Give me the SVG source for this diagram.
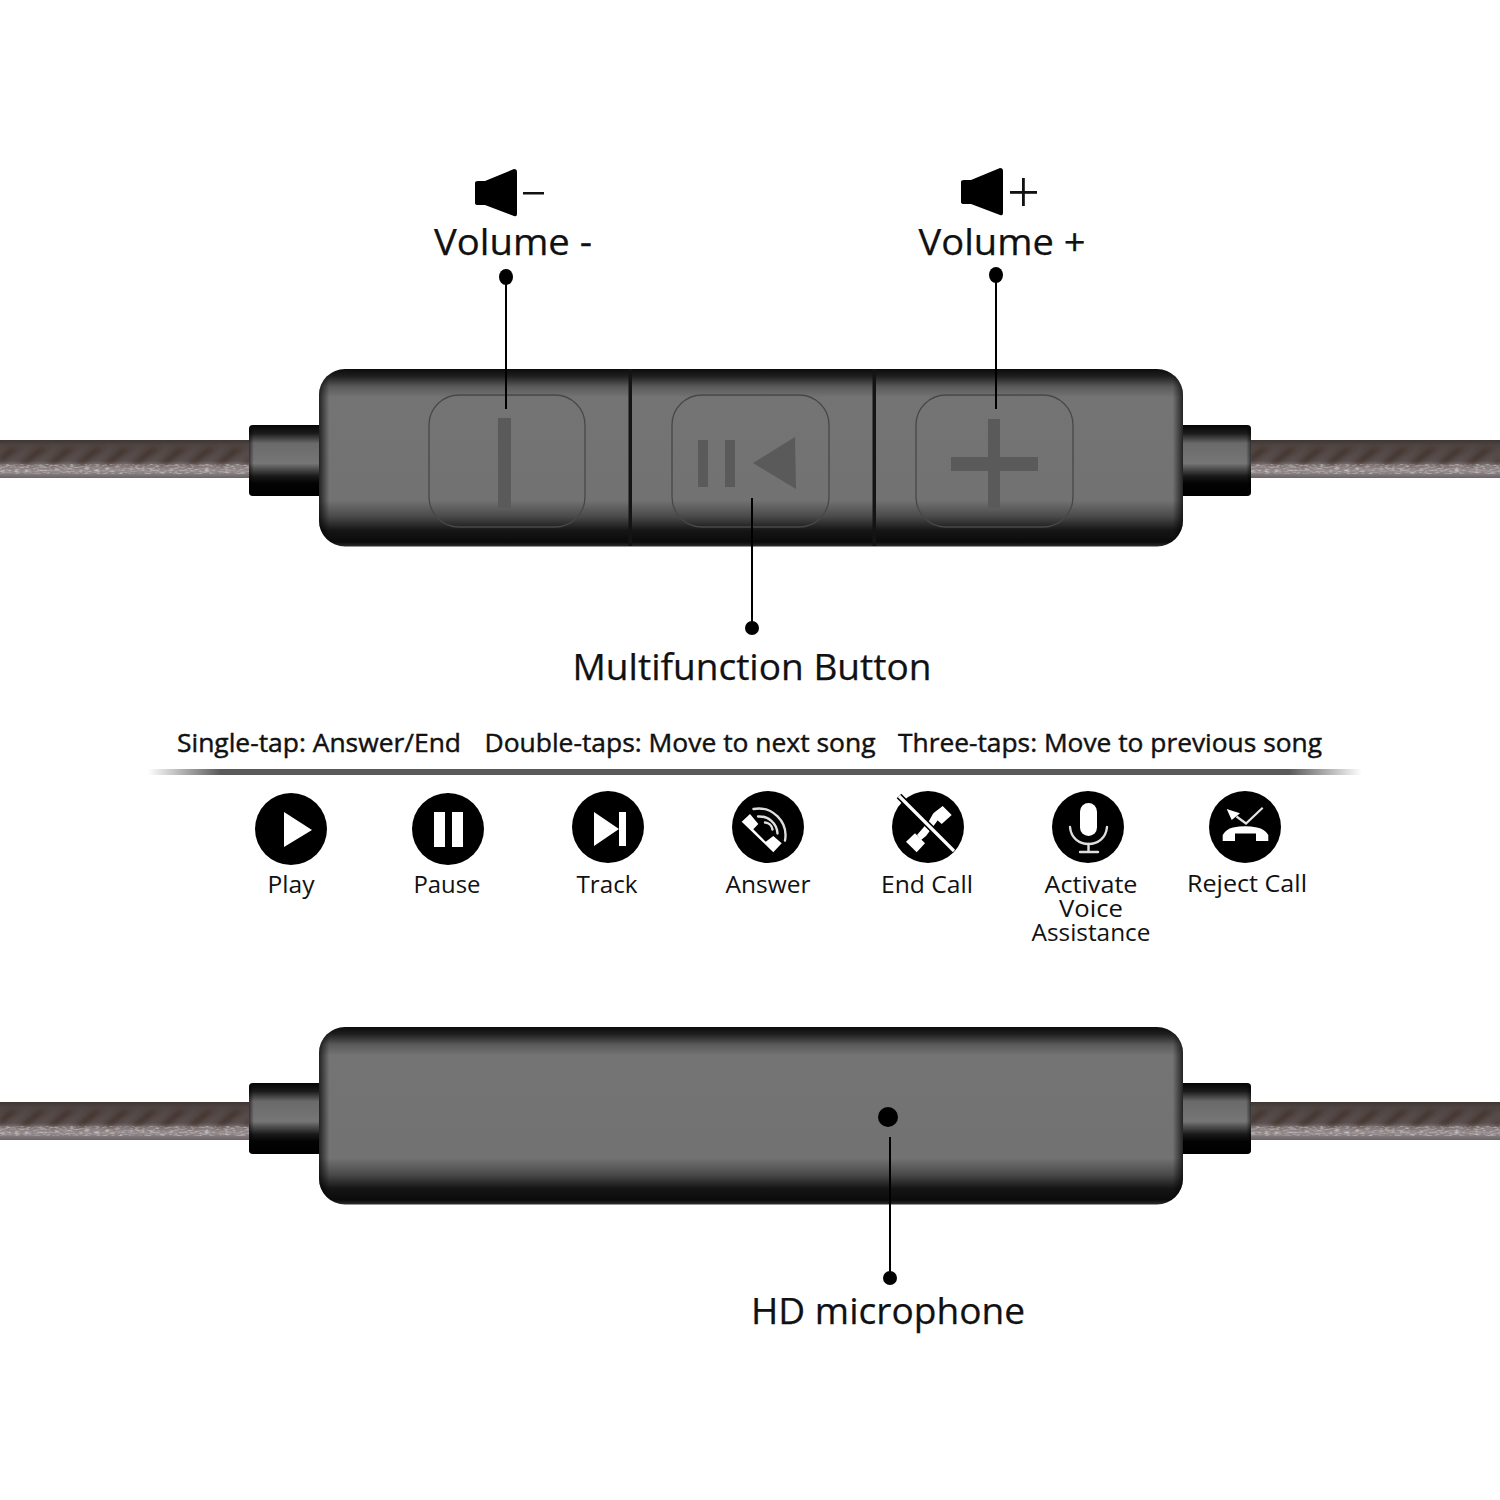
<svg xmlns="http://www.w3.org/2000/svg" width="1500" height="1500" viewBox="0 0 1500 1500">
<style>
  text { font-family: "Open Sans", "Noto Sans", "Liberation Sans", sans-serif; fill: #111; text-anchor: middle; }
  .big { font-size: 36px; stroke: #111; stroke-width: 0.25; }
  .tap { font-size: 26px; stroke: #111; stroke-width: 0.45; }
  .cap { font-size: 24px; }
  .lead { stroke: #000; stroke-width: 2; fill: none; }
  .dot { fill: #000; }
  .key { fill: none; stroke: #484848; stroke-width: 1.3; }
  .glyph { fill: #5a5a5a; }
  .disc { fill: #000; }
  .wht { fill: #fff; }
  .arc { fill: none; stroke: #dedede; stroke-width: 2.4; stroke-linecap: round; }
</style>
<defs>
  <linearGradient id="bodyV" x1="0" y1="0" x2="0" y2="1">
    <stop offset="0" stop-color="#0c0c0c"/>
    <stop offset="0.04" stop-color="#1e1e1e"/>
    <stop offset="0.1" stop-color="#5a5a5a"/>
    <stop offset="0.16" stop-color="#747474"/>
    <stop offset="0.74" stop-color="#727272"/>
    <stop offset="0.83" stop-color="#4a4a4a"/>
    <stop offset="0.91" stop-color="#151515"/>
    <stop offset="0.975" stop-color="#0b0b0b"/>
    <stop offset="1" stop-color="#2e2e2e"/>
  </linearGradient>
  <linearGradient id="bodyH" x1="0" y1="0" x2="1" y2="0">
    <stop offset="0" stop-color="#000" stop-opacity="0.7"/>
    <stop offset="0.012" stop-color="#000" stop-opacity="0"/>
    <stop offset="0.988" stop-color="#000" stop-opacity="0"/>
    <stop offset="1" stop-color="#000" stop-opacity="0.7"/>
  </linearGradient>
  <linearGradient id="ferrule" x1="0" y1="0" x2="0" y2="1">
    <stop offset="0" stop-color="#050505"/>
    <stop offset="0.12" stop-color="#1c1c1c"/>
    <stop offset="0.26" stop-color="#6a6a6a"/>
    <stop offset="0.54" stop-color="#767676"/>
    <stop offset="0.72" stop-color="#1a1a1a"/>
    <stop offset="0.82" stop-color="#030303"/>
    <stop offset="1" stop-color="#000"/>
  </linearGradient>
  <linearGradient id="ferruleEdge" x1="0" y1="0" x2="1" y2="0">
    <stop offset="0" stop-color="#000" stop-opacity="0.55"/>
    <stop offset="0.06" stop-color="#000" stop-opacity="0"/>
    <stop offset="0.94" stop-color="#000" stop-opacity="0"/>
    <stop offset="1" stop-color="#000" stop-opacity="0.55"/>
  </linearGradient>
  <linearGradient id="cord" x1="0" y1="0" x2="0" y2="1">
    <stop offset="0" stop-color="#3f3634"/>
    <stop offset="0.14" stop-color="#4f4543"/>
    <stop offset="0.55" stop-color="#5b5150"/>
    <stop offset="0.68" stop-color="#84797b"/>
    <stop offset="0.82" stop-color="#938a8c"/>
    <stop offset="1" stop-color="#6b6266"/>
  </linearGradient>
  <pattern id="twist" x="0" y="0" width="28" height="38" patternUnits="userSpaceOnUse">
    <polygon points="-10,24 0,24 20,8 10,8" fill="#3a2a22" opacity="0.7"/>
    <polygon points="18,24 28,24 48,8 38,8" fill="#3a2a22" opacity="0.7"/>
  </pattern>
  <filter id="soft" x="0" y="0" width="1" height="1">
    <feGaussianBlur stdDeviation="2.4"/>
  </filter>
  <filter id="grain" x="0" y="0" width="1" height="1">
    <feTurbulence type="fractalNoise" baseFrequency="0.2 0.6" numOctaves="2" seed="4"/>
    <feColorMatrix type="matrix" values="0 0 0 0 0.82  0 0 0 0 0.78  0 0 0 0 0.79  1.4 0 0 0 -0.6"/>
  </filter>
  <linearGradient id="rule" x1="0" y1="0" x2="1" y2="0">
    <stop offset="0" stop-color="#5a5a5a" stop-opacity="0"/>
    <stop offset="0.06" stop-color="#5a5a5a"/>
    <stop offset="0.94" stop-color="#5a5a5a"/>
    <stop offset="1" stop-color="#5a5a5a" stop-opacity="0"/>
  </linearGradient>
  <path id="speaker" d="M0,-10 Q0,-12 3,-12 L10,-12 L39,-24 Q42,-24 42,-21 L42,21 Q42,24 39,23 L10,12 L3,12 Q0,12 0,10 Z" fill="#000"/>
  <g id="strand">
    <rect x="0" y="0" width="250" height="38" fill="url(#cord)"/>
    <rect x="0" y="0" width="250" height="38" fill="url(#twist)" filter="url(#soft)"/>
    <rect x="0" y="24" width="250" height="10" filter="url(#grain)"/>
  </g>
  <g id="cap">
    <rect x="0" y="0" width="80" height="71" rx="4" fill="url(#ferrule)"/>
    <rect x="0" y="0" width="80" height="71" rx="4" fill="url(#ferruleEdge)"/>
  </g>
  <g id="housing">
    <rect x="319" y="0" width="864" height="177.500" rx="26" fill="url(#bodyV)"/>
    <rect x="319" y="0" width="864" height="177.500" rx="26" fill="url(#bodyH)"/>
  </g>
</defs>

<rect width="1500" height="1500" fill="#fff"/>

<g id="remote-top">
  <use href="#strand" x="0" y="440"/>
  <use href="#strand" x="1250" y="440"/>
  <use href="#cap" x="249" y="425"/>
  <use href="#cap" x="1171" y="425"/>
  <use href="#housing" y="369"/>
  <rect x="628.500" y="369" width="3.500" height="177" fill="#141414"/>
  <rect x="872.500" y="369" width="3.500" height="177" fill="#141414"/>
</g>

<g id="button-minus">
  <rect class="key" x="429" y="395" width="156" height="132" rx="30"/>
  <rect class="glyph" x="498" y="418" width="13" height="90"/>
</g>
<g id="button-multi">
  <rect class="key" x="672" y="395" width="157" height="132" rx="30"/>
  <rect class="glyph" x="698" y="440" width="10" height="47"/>
  <rect class="glyph" x="725" y="440" width="10" height="47"/>
  <polygon class="glyph" points="753,463 795,437 796,489"/>
</g>
<g id="button-plus">
  <rect class="key" x="916" y="395" width="157" height="132" rx="30"/>
  <rect class="glyph" x="988" y="419" width="12" height="89"/>
  <rect class="glyph" x="951" y="457" width="87" height="14"/>
</g>

<g id="remote-bottom">
  <use href="#strand" x="0" y="1102"/>
  <use href="#strand" x="1250" y="1102"/>
  <use href="#cap" x="249" y="1083"/>
  <use href="#cap" x="1171" y="1083"/>
  <use href="#housing" y="1027"/>
  <circle cx="888" cy="1117" r="10" fill="#000"/>
</g>

<g id="connectors">
  <line class="lead" x1="506" y1="277" x2="506" y2="409"/>
  <ellipse class="dot" cx="506" cy="277" rx="7" ry="8"/>
  <line class="lead" x1="996" y1="275" x2="996" y2="409"/>
  <ellipse class="dot" cx="996" cy="275" rx="7" ry="8"/>
  <line class="lead" x1="752" y1="498" x2="752" y2="628"/>
  <circle class="dot" cx="752" cy="628" r="7"/>
  <line class="lead" x1="890" y1="1137" x2="890" y2="1278"/>
  <circle class="dot" cx="890" cy="1278" r="7"/>
</g>

<g id="label-volume-down">
  <use href="#speaker" x="475" y="193"/>
  <rect x="523" y="192" width="21" height="2.500" fill="#111"/>
  <text class="big" x="513" y="255" textLength="158" lengthAdjust="spacingAndGlyphs">Volume -</text>
</g>
<g id="label-volume-up">
  <use href="#speaker" x="961" y="192"/>
  <rect x="1010" y="191" width="27" height="2.800" fill="#111"/>
  <rect x="1022" y="178" width="2.800" height="28" fill="#111"/>
  <text class="big" x="1002" y="255" textLength="167" lengthAdjust="spacingAndGlyphs">Volume +</text>
</g>
<g id="label-multifunction">
  <text class="big" x="752" y="680" textLength="359" lengthAdjust="spacingAndGlyphs">Multifunction Button</text>
</g>
<g id="label-microphone">
  <text class="big" x="888" y="1324" textLength="274" lengthAdjust="spacingAndGlyphs">HD microphone</text>
</g>

<g id="tap-guide">
  <text class="tap" x="319" y="752" textLength="284" lengthAdjust="spacingAndGlyphs">Single-tap: Answer/End</text>
  <text class="tap" x="680" y="752" textLength="391" lengthAdjust="spacingAndGlyphs">Double-taps: Move to next song</text>
  <text class="tap" x="1110" y="752" textLength="424" lengthAdjust="spacingAndGlyphs">Three-taps: Move to previous song</text>
  <rect x="148" y="769" width="1214" height="6" fill="url(#rule)"/>
</g>

<g id="icon-play">
  <circle class="disc" cx="291" cy="829" r="36"/>
  <polygon class="wht" points="284,812 284,847 312,830"/>
  <text class="cap" x="291" y="893" textLength="47" lengthAdjust="spacingAndGlyphs">Play</text>
</g>
<g id="icon-pause">
  <circle class="disc" cx="448" cy="829" r="36"/>
  <rect class="wht" x="434" y="812" width="11" height="35"/>
  <rect class="wht" x="452" y="812" width="11" height="35"/>
  <text class="cap" x="447" y="893" textLength="67" lengthAdjust="spacingAndGlyphs">Pause</text>
</g>
<g id="icon-track">
  <circle class="disc" cx="608" cy="827" r="36"/>
  <polygon class="wht" points="594,812 594,846 619,829"/>
  <rect class="wht" x="619" y="812" width="7" height="34"/>
  <text class="cap" x="607" y="893" textLength="61" lengthAdjust="spacingAndGlyphs">Track</text>
</g>
<g id="icon-answer">
  <circle class="disc" cx="768" cy="827" r="36"/>
  <polygon class="wht" points="741.700,821.700 750,814 758.300,824 753.300,829.300 765.700,841.700 773.300,836 781.700,843.300 773.300,852.300"/>
  <path class="arc" d="M753.500,809 A27,27 0 0 1 785,840.500"/>
  <path class="arc" d="M758,816.500 A18,18 0 0 1 777.500,833.500"/>
  <path class="arc" d="M765,822.500 A8,8 0 0 1 772.500,829.500"/>
  <text class="cap" x="768" y="893" textLength="85" lengthAdjust="spacingAndGlyphs">Answer</text>
</g>
<g id="icon-end-call">
  <circle class="disc" cx="928" cy="827" r="36"/>
  <polygon class="wht" points="906,841.700 915,833.300 925,843.300 916.700,852.300"/>
  <polygon class="wht" points="933.300,813.300 942.700,806 951.700,815 941.700,824 935.500,818.500"/>
  <polygon class="wht" points="917,835 929,821 933.300,813.300 938,820 926,836 921,840"/>
  <line x1="899" y1="796" x2="954" y2="851" stroke="#000" stroke-width="6.500"/>
  <line x1="899" y1="796" x2="954" y2="851" stroke="#fff" stroke-width="3.200"/>
  <text class="cap" x="927" y="893" textLength="92" lengthAdjust="spacingAndGlyphs">End Call</text>
</g>
<g id="icon-voice">
  <circle class="disc" cx="1088" cy="827" r="36"/>
  <rect class="wht" x="1080" y="803" width="17" height="33" rx="8.500"/>
  <path class="arc" d="M1070,827 C1071,838 1079,844 1088.500,844 C1098,844 1106,838 1107,827"/>
  <path class="arc" d="M1088.500,844 V851 M1080,852 H1098"/>
  <text class="cap"><tspan x="1091" y="893" textLength="93" lengthAdjust="spacingAndGlyphs">Activate</tspan><tspan x="1091" y="917" textLength="64" lengthAdjust="spacingAndGlyphs">Voice</tspan><tspan x="1091" y="941" textLength="119" lengthAdjust="spacingAndGlyphs">Assistance</tspan></text>
</g>
<g id="icon-reject">
  <circle class="disc" cx="1245" cy="827" r="36"/>
  <path class="wht" d="M1222.700,841 V835 Q1226,829 1233,827.500 Q1245,825 1257,827.500 Q1265,829 1268.300,835 V841 H1256 V833.500 H1235 V841 Z"/>
  <polygon class="wht" points="1226.700,809 1240,813.300 1231.700,820"/>
  <path d="M1236.500,816.500 L1246,823.500 L1262.700,807.700" fill="none" stroke="#e4e4e4" stroke-width="2.200"/>
  <text class="cap" x="1247" y="892" textLength="120" lengthAdjust="spacingAndGlyphs">Reject Call</text>
</g>
</svg>
